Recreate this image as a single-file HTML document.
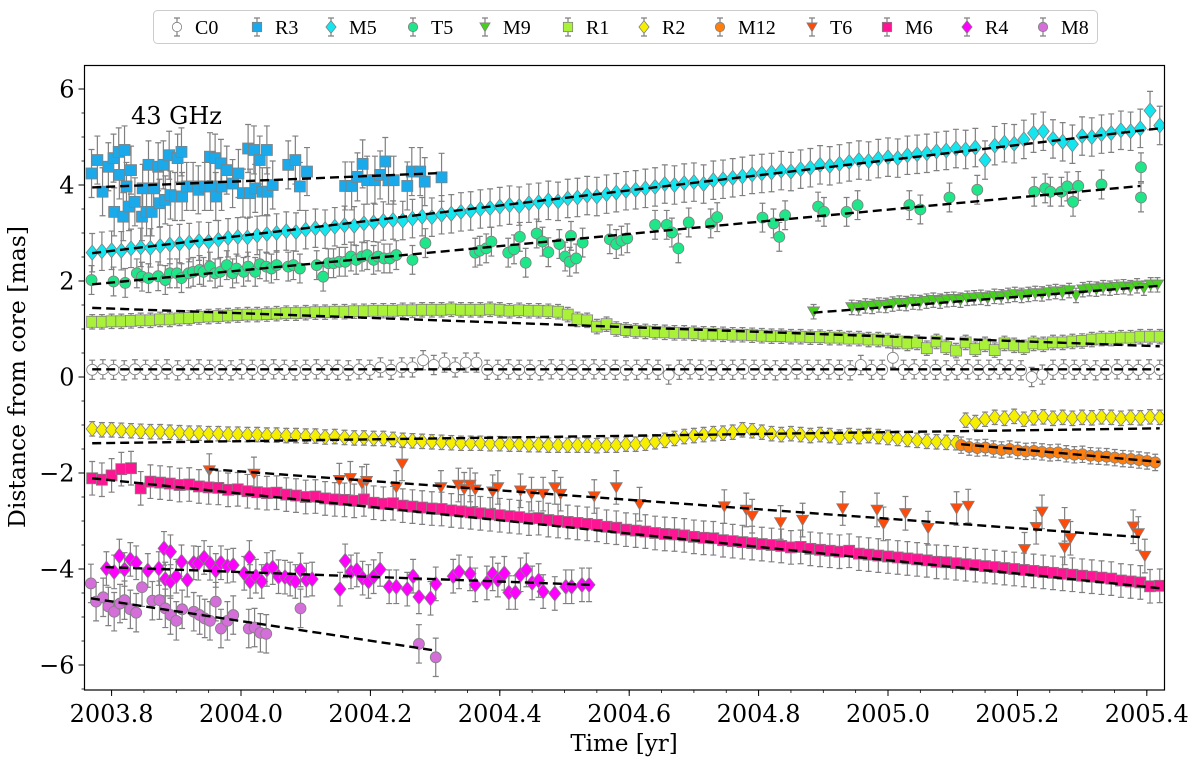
<!DOCTYPE html>
<html><head><meta charset="utf-8">
<style>
html,body{margin:0;padding:0;background:#fff;}
svg{display:block;font-family:"DejaVu Serif","Liberation Serif",serif;}
</style></head>
<body>
<svg id="chart" width="1200" height="761" viewBox="0 0 1200 761" xmlns="http://www.w3.org/2000/svg">
<rect x="0" y="0" width="1200" height="761" fill="#fff"/>
<g id="plot"></g>
<rect x="84.5" y="65.5" width="1080" height="624.5" fill="none" stroke="#000" stroke-width="1.2"/>
<g id="axes"></g>
<text x="131" y="124" font-size="24" fill="#000">43 GHz</text>
<text x="624" y="751" font-size="23" text-anchor="middle" fill="#000">Time [yr]</text>
<text transform="translate(25,377) rotate(-90)" font-size="23.5" text-anchor="middle" fill="#000">Distance from core [mas]</text>
<g id="legend"></g>
</svg>
<script>
// ---- axis ticks
const xTicks = [2003.8, 2004.0, 2004.2, 2004.4, 2004.6, 2004.8, 2005.0, 2005.2, 2005.4];
const xTickLabels = ["2003.8","2004.0","2004.2","2004.4","2004.6","2004.8","2005.0","2005.2","2005.4"];
const yTicks = [-6,-4,-2,0,2,4,6];
const yTickLabels = ["\u22126","\u22124","\u22122","0","2","4","6"];

// ---- series names (legend order)
const seriesNames = ["C0","R3","M5","T5","M9","R1","R2","M12","T6","M6","R4","M8"];

// ---- sparse series: explicit times and values
const r3Times = [2003.769,2003.778,2003.786,2003.795,2003.803,2003.804,2003.811,2003.812,2003.818,2003.820,2003.823,2003.827,2003.830,2003.836,2003.847,2003.848,2003.854,2003.857,2003.862,2003.865,2003.872,2003.874,2003.880,2003.883,2003.889,2003.891,2003.898,2003.902,2003.908,2003.909,2003.916,2003.926,2003.934,2003.944,2003.952,2003.953,2003.960,2003.961,2003.969,2003.970,2003.978,2003.987,2003.996,2004.003,2004.011,2004.014,2004.020,2004.022,2004.029,2004.033,2004.040,2004.041,2004.049,2004.073,2004.084,2004.091,2004.102,2004.161,2004.171,2004.180,2004.188,2004.195,2004.207,2004.215,2004.223,2004.228,2004.236,2004.257,2004.264,2004.277,2004.284,2004.310];
const r3Values = [4.24,4.52,3.86,4.38,4.56,3.44,4.69,4.21,3.34,4.73,3.97,3.55,4.31,3.65,3.34,3.93,3.44,4.42,3.44,3.93,4.38,3.62,4.42,3.69,4.62,3.79,3.76,4.56,4.69,3.76,3.97,3.97,3.90,3.97,4.59,3.97,4.56,3.76,4.45,3.97,4.31,4.03,4.24,3.83,4.76,3.83,4.73,3.93,4.52,3.86,4.73,3.86,4.00,4.42,4.52,3.97,4.28,3.98,3.98,4.17,4.44,4.10,4.10,4.21,4.49,4.10,4.10,3.98,4.28,4.28,4.07,4.16];

const t5Times = [2003.769,2003.803,2003.821,2003.839,2003.847,2003.857,2003.872,2003.883,2003.890,2003.901,2003.908,2003.919,2003.926,2003.936,2003.942,2003.952,2003.960,2003.968,2003.978,2003.987,2003.993,2004.004,2004.011,2004.022,2004.029,2004.039,2004.047,2004.055,2004.073,2004.081,2004.091,2004.117,2004.127,2004.135,2004.143,2004.152,2004.161,2004.170,2004.178,2004.187,2004.195,2004.205,2004.212,2004.221,2004.230,2004.240,2004.265,2004.285,2004.362,2004.369,2004.379,2004.387,2004.413,2004.422,2004.431,2004.440,2004.457,2004.466,2004.475,2004.492,2004.501,2004.508,2004.510,2004.518,2004.528,2004.570,2004.580,2004.588,2004.597,2004.640,2004.658,2004.666,2004.676,2004.692,2004.726,2004.736,2004.806,2004.823,2004.832,2004.841,2004.892,2004.901,2004.936,2004.953,2005.033,2005.050,2005.095,2005.138,2005.226,2005.243,2005.251,2005.268,2005.277,2005.286,2005.294,2005.330,2005.391,2005.391];
const t5Values = [2.02,1.99,1.96,2.16,2.09,2.06,2.10,2.02,2.16,2.16,2.06,2.16,2.19,2.23,2.19,2.30,2.16,2.19,2.33,2.16,2.26,2.19,2.30,2.19,2.35,2.30,2.26,2.33,2.30,2.33,2.26,2.33,2.09,2.37,2.37,2.40,2.40,2.51,2.44,2.51,2.54,2.44,2.51,2.47,2.47,2.54,2.44,2.79,2.59,2.63,2.68,2.82,2.59,2.66,2.92,2.38,2.99,2.82,2.60,2.77,2.51,2.40,2.94,2.47,2.80,2.87,2.77,2.84,2.89,3.17,3.17,3.01,2.68,3.22,3.20,3.33,3.32,3.20,2.92,3.37,3.55,3.44,3.44,3.58,3.58,3.49,3.74,3.90,3.86,3.93,3.86,3.86,3.97,3.65,3.98,4.01,4.37,3.74];

const t6Times = [2003.951,2004.020,2004.152,2004.169,2004.187,2004.194,2004.240,2004.249,2004.309,2004.336,2004.345,2004.354,2004.362,2004.389,2004.397,2004.432,2004.449,2004.467,2004.485,2004.494,2004.546,2004.580,2004.616,2004.747,2004.781,2004.790,2004.834,2004.868,2004.930,2004.983,2004.993,2005.027,2005.062,2005.106,2005.124,2005.211,2005.229,2005.238,2005.273,2005.273,2005.282,2005.379,2005.387,2005.397];
const t6Values = [-1.95,-2.02,-2.15,-2.11,-2.22,-2.17,-2.30,-1.81,-2.30,-2.25,-2.34,-2.25,-2.35,-2.39,-2.30,-2.37,-2.44,-2.44,-2.30,-2.44,-2.49,-2.30,-2.65,-2.70,-2.77,-2.90,-3.03,-2.98,-2.74,-2.77,-3.06,-2.84,-3.15,-2.74,-2.69,-3.59,-3.13,-2.81,-3.56,-3.07,-3.36,-3.12,-3.26,-3.73];

const r4Times = [2003.792,2003.804,2003.812,2003.820,2003.829,2003.838,2003.856,2003.873,2003.881,2003.883,2003.891,2003.891,2003.900,2003.908,2003.917,2003.927,2003.934,2003.943,2003.952,2003.961,2003.969,2003.979,2003.988,2004.005,2004.013,2004.014,2004.023,2004.032,2004.040,2004.049,2004.058,2004.068,2004.076,2004.084,2004.092,2004.101,2004.110,2004.153,2004.161,2004.170,2004.179,2004.188,2004.197,2004.205,2004.215,2004.229,2004.240,2004.257,2004.266,2004.275,2004.293,2004.301,2004.328,2004.337,2004.354,2004.362,2004.380,2004.389,2004.397,2004.407,2004.414,2004.424,2004.432,2004.441,2004.450,2004.460,2004.467,2004.485,2004.502,2004.511,2004.527,2004.538];
const r4Values = [-3.99,-4.06,-3.73,-4.01,-3.80,-3.87,-4.03,-3.99,-3.57,-4.21,-3.64,-4.26,-4.15,-3.85,-4.23,-3.87,-3.88,-3.76,-3.88,-4.03,-3.87,-3.94,-3.92,-4.09,-3.76,-4.26,-4.15,-4.26,-4.01,-3.97,-4.16,-4.17,-4.21,-4.26,-4.02,-4.23,-4.21,-4.42,-3.83,-4.06,-4.02,-4.19,-4.26,-4.16,-4.01,-4.37,-4.37,-4.42,-4.15,-4.58,-4.61,-4.31,-4.15,-4.06,-4.10,-4.33,-4.29,-4.10,-4.23,-4.09,-4.49,-4.49,-4.12,-4.02,-4.29,-4.24,-4.47,-4.51,-4.37,-4.37,-4.33,-4.33];

const m8Times = [2003.768,2003.776,2003.787,2003.795,2003.804,2003.813,2003.820,2003.829,2003.838,2003.847,2003.863,2003.874,2003.883,2003.891,2003.900,2003.909,2003.927,2003.936,2003.944,2003.952,2003.961,2003.969,2003.979,2003.988,2004.012,2004.021,2004.030,2004.039,2004.092,2004.275,2004.301];
const m8Values = [-4.30,-4.68,-4.59,-4.78,-4.89,-4.72,-4.65,-4.84,-4.91,-4.38,-4.66,-4.65,-4.82,-4.96,-5.08,-4.84,-4.89,-4.96,-5.03,-5.08,-4.68,-5.24,-5.08,-4.96,-5.24,-5.22,-5.33,-5.35,-4.82,-5.56,-5.84];

// ---- dense series: start epoch, cadence (yr) and values
const c0Start = 2003.77, c0Step = 0.0165;
const c0Values = [0.15,0.16,0.15,0.14,0.16,0.15,0.15,0.16,0.14,0.15,0.16,0.15,0.15,0.14,0.16,0.15,0.15,0.16,0.15,0.14,0.15,0.16,0.15,0.15,0.14,0.16,0.15,0.2,0.15,0.2,0.2,0.35,0.25,0.3,0.2,0.3,0.3,0.15,0.15,0.16,0.15,0.15,0.14,0.16,0.15,0.15,0.15,0.16,0.15,0.15,0.14,0.15,0.16,0.15,0.05,0.15,0.16,0.15,0.14,0.15,0.15,0.16,0.15,0.15,0.14,0.15,0.16,0.15,0.15,0.16,0.15,0.14,0.25,0.15,0.15,0.4,0.15,0.16,0.15,0.15,0.14,0.15,0.16,0.15,0.15,0.16,0.15,0.14,0.0,0.05,0.15,0.16,0.15,0.15,0.14,0.15,0.16,0.15,0.15,0.16,0.15];

const m5Start = 2003.77, m5Step = 0.015;
const m5Values = [2.59,2.62,2.64,2.63,2.68,2.70,2.69,2.73,2.76,2.78,2.80,2.83,2.82,2.86,2.90,2.92,2.91,2.95,2.98,3.00,3.04,3.02,3.07,3.10,3.08,3.13,3.16,3.15,3.20,3.22,3.25,3.27,3.26,3.30,3.34,3.33,3.38,3.40,3.44,3.46,3.50,3.52,3.55,3.58,3.56,3.62,3.64,3.68,3.66,3.72,3.74,3.78,3.76,3.81,3.84,3.88,3.90,3.93,3.96,4.02,4.00,4.04,4.06,4.02,4.10,4.12,4.15,4.18,4.22,4.24,4.26,4.30,4.28,4.33,4.36,4.42,4.40,4.44,4.48,4.52,4.50,4.55,4.58,4.56,4.62,4.64,4.66,4.70,4.72,4.76,4.74,4.78,4.52,4.82,4.88,4.86,4.95,5.08,5.12,4.96,4.90,4.85,5.02,5.00,5.06,5.08,5.14,5.12,5.18,5.55,5.24];

const m9Start = 2004.944, m9Step = 0.0105;
const m9FirstTime = 2004.885, m9FirstValue = 1.36;
const m9Values = [1.45,1.44,1.48,1.47,1.50,1.49,1.52,1.54,1.53,1.56,1.55,1.58,1.60,1.58,1.61,1.62,1.60,1.64,1.65,1.66,1.64,1.68,1.67,1.70,1.72,1.70,1.72,1.74,1.73,1.76,1.78,1.76,1.80,1.70,1.82,1.84,1.83,1.86,1.85,1.87,1.88,1.86,1.90,1.85,1.92,1.92];

const r1Start = 2003.77, r1Step = 0.015;
const r1Values = [1.15,1.15,1.16,1.16,1.17,1.18,1.18,1.20,1.20,1.22,1.23,1.25,1.26,1.27,1.28,1.29,1.30,1.30,1.31,1.32,1.33,1.33,1.34,1.35,1.35,1.36,1.36,1.37,1.37,1.38,1.38,1.38,1.39,1.39,1.40,1.40,1.40,1.41,1.40,1.40,1.40,1.41,1.40,1.38,1.39,1.38,1.38,1.37,1.36,1.30,1.20,1.18,1.05,1.10,1.00,0.98,0.96,0.95,0.94,0.93,0.92,0.92,0.91,0.90,0.90,0.89,0.88,0.88,0.87,0.86,0.85,0.85,0.84,0.84,0.83,0.83,0.82,0.82,0.80,0.80,0.78,0.78,0.76,0.74,0.70,0.72,0.60,0.74,0.62,0.55,0.72,0.58,0.68,0.56,0.70,0.66,0.62,0.70,0.68,0.72,0.72,0.74,0.75,0.78,0.80,0.80,0.82,0.82,0.84,0.84,0.84];

const r2Start = 2003.77, r2Step = 0.015;
const r2Values = [-1.08,-1.10,-1.10,-1.11,-1.12,-1.13,-1.14,-1.14,-1.15,-1.16,-1.17,-1.17,-1.18,-1.18,-1.19,-1.19,-1.20,-1.20,-1.21,-1.21,-1.22,-1.22,-1.23,-1.23,-1.25,-1.24,-1.26,-1.27,-1.27,-1.28,-1.28,-1.30,-1.32,-1.33,-1.34,-1.35,-1.36,-1.37,-1.38,-1.38,-1.38,-1.39,-1.39,-1.40,-1.40,-1.41,-1.41,-1.42,-1.42,-1.42,-1.42,-1.42,-1.43,-1.42,-1.42,-1.40,-1.40,-1.38,-1.35,-1.32,-1.28,-1.24,-1.22,-1.20,-1.18,-1.17,-1.15,-1.10,-1.12,-1.15,-1.18,-1.20,-1.18,-1.20,-1.22,-1.20,-1.22,-1.25,-1.22,-1.24,-1.22,-1.24,-1.26,-1.28,-1.30,-1.32,-1.34,-1.35,-1.36,-1.37,-0.90,-0.95,-0.88,-0.84,-0.86,-0.82,-0.88,-0.85,-0.83,-0.86,-0.84,-0.86,-0.84,-0.85,-0.83,-0.84,-0.86,-0.84,-0.85,-0.83,-0.84];

const m12Start = 2005.113, m12Step = 0.0125;
const m12Values = [-1.42,-1.46,-1.48,-1.47,-1.50,-1.52,-1.50,-1.53,-1.55,-1.54,-1.56,-1.58,-1.57,-1.60,-1.62,-1.61,-1.64,-1.65,-1.66,-1.68,-1.70,-1.71,-1.73,-1.75,-1.78];

const m6Start = 2003.77, m6Step = 0.015;
const m6Values = [-2.11,-2.14,-2.05,-1.92,-1.90,-2.32,-2.18,-2.20,-2.22,-2.25,-2.24,-2.28,-2.30,-2.31,-2.35,-2.34,-2.38,-2.40,-2.42,-2.41,-2.45,-2.47,-2.50,-2.49,-2.53,-2.55,-2.56,-2.58,-2.55,-2.62,-2.64,-2.63,-2.68,-2.70,-2.72,-2.74,-2.75,-2.78,-2.80,-2.82,-2.84,-2.86,-2.88,-2.90,-2.92,-2.95,-2.94,-2.98,-3.00,-3.02,-3.04,-3.06,-3.08,-3.12,-3.14,-3.18,-3.20,-3.22,-3.25,-3.27,-3.28,-3.30,-3.33,-3.35,-3.36,-3.40,-3.42,-3.44,-3.46,-3.48,-3.50,-3.52,-3.55,-3.54,-3.58,-3.60,-3.62,-3.64,-3.62,-3.68,-3.70,-3.72,-3.74,-3.76,-3.78,-3.80,-3.82,-3.85,-3.86,-3.88,-3.90,-3.92,-3.94,-3.96,-3.98,-4.00,-4.02,-4.04,-4.06,-4.08,-4.10,-4.12,-4.14,-4.16,-4.18,-4.20,-4.24,-4.26,-4.28,-4.36,-4.35];

// ---- error bar half-lengths (mas)
const seriesErrors = [0.2,0.5,0.4,0.3,0.15,0.15,0.15,0.17,0.35,0.35,0.35,0.4];

// ---- linear fits: [t start, value start, t end, value end]
const fitC0 = [2003.77,0.16,2005.42,0.16];
const fitR3 = [2003.77,3.95,2004.31,4.25];
const fitM5 = [2003.77,2.58,2005.42,5.18];
const fitT5 = [2003.77,1.93,2005.39,3.98];
const fitM9 = [2004.885,1.34,2005.42,1.90];
const fitR1 = [2003.77,1.44,2005.42,0.64];
const fitR2 = [2003.77,-1.38,2005.42,-1.07];
const fitM12 = [2005.113,-1.40,2005.42,-1.77];
const fitT6 = [2003.951,-1.92,2005.394,-3.34];
const fitM6 = [2003.77,-2.11,2005.42,-4.40];
const fitR4 = [2003.79,-3.96,2004.54,-4.33];
const fitM8 = [2003.768,-4.61,2004.301,-5.70];

const NS = "http://www.w3.org/2000/svg";
const X0 = 84.5, X1 = 1164.5, Y0 = 65.5, Y1 = 690;
function xScale(t){ return 888 + (t - 2005.0) * 647; }
function yScale(v){ return 377 - v * 48; }
function mk(tag, attrs, parent){
  const e = document.createElementNS(NS, tag);
  for (const k in attrs) e.setAttribute(k, attrs[k]);
  parent.appendChild(e);
  return e;
}
function grid(start, step, n){ const a=[]; for(let i=0;i<n;i++) a.push(start+i*step); return a; }

const styles = {
  C0:{shape:"circle",color:"#ffffff"},
  R3:{shape:"square",color:"#1aa9ea"},
  M5:{shape:"diamond",color:"#14e6f0"},
  T5:{shape:"circle",color:"#20e68a"},
  M9:{shape:"tri",color:"#46d21a"},
  R1:{shape:"square",color:"#aaf23a"},
  R2:{shape:"diamond",color:"#f6f000"},
  M12:{shape:"circle",color:"#ff7f0e"},
  T6:{shape:"tri",color:"#ff4a0a"},
  M6:{shape:"square",color:"#ff1493"},
  R4:{shape:"diamond",color:"#ff00ff"},
  M8:{shape:"circle",color:"#d46ed8"}
};

function marker(shape, color, cx, cy, parent, s){
  s = s || 1;
  const common = {fill:color, stroke:"#808080", "stroke-width":0.8};
  let e;
  if (shape==="circle") e = mk("circle", Object.assign({cx:cx,cy:cy,r:5.5*s},common), parent);
  else if (shape==="square") e = mk("rect", Object.assign({x:cx-5.5*s,y:cy-5.5*s,width:11*s,height:11*s},common), parent);
  else if (shape==="diamond"){ const d=7.5*s; e = mk("polygon", Object.assign({points:`${cx},${cy-d} ${cx+d*0.8},${cy} ${cx},${cy+d} ${cx-d*0.8},${cy}`},common), parent); }
  else { const d=6*s; e = mk("polygon", Object.assign({points:`${cx-d},${cy-d*0.8} ${cx+d},${cy-d*0.8} ${cx},${cy+d*0.9}`},common), parent); }
  return e;
}

const plot = document.getElementById("plot");
const clip = mk("clipPath",{id:"clipPlot"},mk("defs",{},document.getElementById("chart")));
mk("rect",{x:X0,y:Y0,width:X1-X0,height:Y1-Y0},clip);
plot.setAttribute("clip-path","url(#clipPlot)");

const seriesTimes = {
  C0: grid(c0Start,c0Step,c0Values.length),
  R3: r3Times,
  M5: grid(m5Start,m5Step,m5Values.length),
  T5: t5Times,
  M9: [m9FirstTime].concat(grid(m9Start,m9Step,m9Values.length)),
  R1: grid(r1Start,r1Step,r1Values.length),
  R2: grid(r2Start,r2Step,r2Values.length),
  M12: grid(m12Start,m12Step,m12Values.length),
  T6: t6Times,
  M6: grid(m6Start,m6Step,m6Values.length),
  R4: r4Times,
  M8: m8Times
};
const seriesValues = {
  C0:c0Values, R3:r3Values, M5:m5Values, T5:t5Values, M9:[m9FirstValue].concat(m9Values),
  R1:r1Values, R2:r2Values, M12:m12Values, T6:t6Values, M6:m6Values, R4:r4Values, M8:m8Values
};
const fits = {C0:fitC0,R3:fitR3,M5:fitM5,T5:fitT5,M9:fitM9,R1:fitR1,R2:fitR2,M12:fitM12,T6:fitT6,M6:fitM6,R4:fitR4,M8:fitM8};

seriesNames.forEach((name, si) => {
  const g = mk("g", {}, plot);
  
  
  const ts = seriesTimes[name], vs = seriesValues[name], err = seriesErrors[si];
  const st = styles[name];
  for (let i=0;i<vs.length;i++){
    const x = xScale(ts[i]), y = yScale(vs[i]);
    const yt = yScale(vs[i]+err), yb = yScale(vs[i]-err);
    const eb = mk("path", {d:`M${x},${yt}V${yb}M${x-3},${yt}H${x+3}M${x-3},${yb}H${x+3}`, stroke:"#808080", "stroke-width":1.2, fill:"none"}, g);
    
    
  }
  for (let i=0;i<vs.length;i++){
    const m = marker(st.shape, st.color, xScale(ts[i]), yScale(vs[i]), g);
    
    
  }
});
seriesNames.forEach((name) => {
  const f = fits[name];
  const l = mk("line", {x1:xScale(f[0]),y1:yScale(f[1]),x2:xScale(f[2]),y2:yScale(f[3]),stroke:"#000","stroke-width":2.4,"stroke-dasharray":"9,5"}, plot);
  
  
});

// ---- axes
const axes = document.getElementById("axes");
for (let t=2003.75; t<=2005.43; t+=0.05){
  const x = xScale(t);
  if (x < X0 || x > X1) continue;
  mk("line",{x1:x,y1:Y1,x2:x,y2:Y1+3,stroke:"#000","stroke-width":0.8},axes);
}
xTicks.forEach((t,i) => {
  const x = xScale(t);
  const tk = mk("line",{x1:x,y1:Y1,x2:x,y2:Y1+6,stroke:"#000","stroke-width":1},axes);
  
  
  const lb = mk("text",{x:x,y:722,"font-size":24,"text-anchor":"middle",fill:"#000"},axes);
  lb.textContent = xTickLabels[i];
  
  
});
for (let v=-6.5; v<=6.5; v+=0.5){
  const y = yScale(v);
  if (y < Y0 || y > Y1) continue;
  mk("line",{x1:X0-3,y1:y,x2:X0,y2:y,stroke:"#000","stroke-width":0.8},axes);
}
yTicks.forEach((v,i) => {
  const y = yScale(v);
  const tk = mk("line",{x1:X0-6,y1:y,x2:X0,y2:y,stroke:"#000","stroke-width":1},axes);
  
  
  const lb = mk("text",{x:X0-10,y:y+8.5,"font-size":24,"text-anchor":"end",fill:"#000"},axes);
  lb.textContent = yTickLabels[i];
  
  
});

// ---- legend
const legend = document.getElementById("legend");
const lgBox = mk("rect",{x:153.5,y:10.5,width:944,height:33,rx:4,fill:"#fff",stroke:"#cccccc","stroke-width":1},legend);


const legendMarkerX = [177,257,331,413,485,568,644,720,812,887,967,1043];
seriesNames.forEach((name,i) => {
  const g = mk("g",{},legend);
  
  
  const x = legendMarkerX[i], y = 27;
  mk("path",{d:`M${x},${y-9}V${y+9}M${x-3},${y-9}H${x+3}M${x-3},${y+9}H${x+3}`,stroke:"#808080","stroke-width":1.2,fill:"none"},g);
  marker(styles[name].shape, styles[name].color, x, y, g, 0.85);
  const tx = mk("text",{x:x+18,y:y+7,"font-size":20,fill:"#000","font-family":"Liberation Serif, serif"},g);
  tx.textContent = name;
});
</script>
</body></html>
